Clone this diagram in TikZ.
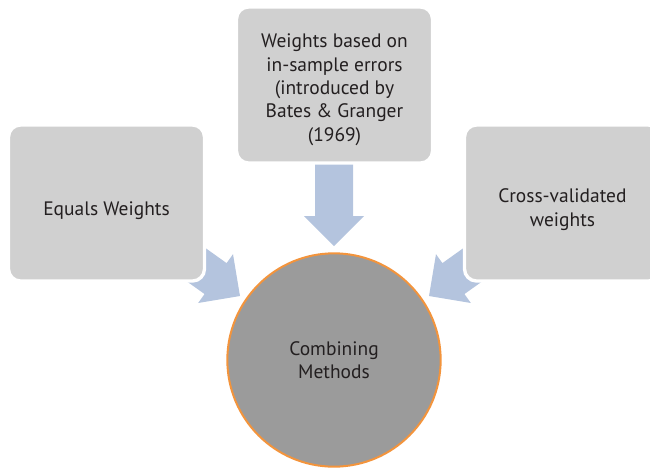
\documentclass[tikz,border=0pt]{standalone}
\usepackage{fontspec}
\setmainfont{PT Sans}
\definecolor{boxgray}{RGB}{208,208,208}
\definecolor{arrowblue}{RGB}{180,196,222}
\definecolor{circgray}{RGB}{155,155,155}
\definecolor{circedge}{RGB}{243,148,60}
\definecolor{txt}{RGB}{35,31,32}
\begin{document}
\begin{tikzpicture}[x=0.75pt,y=-0.75pt,
  boxstyle/.style={rectangle, rounded corners=9pt, fill=boxgray, draw=white, line width=2.5pt,
    minimum width=147pt, minimum height=117pt, inner sep=0pt},
  labelstyle/.style={align=center, text=txt, inner sep=0pt,
    font=\fontsize{14.6}{17.5}\selectfont},
  arrowshape/.style={fill=arrowblue, draw=none},
  circstyle/.style={circle, fill=circgray, draw=circedge, line width=1.5pt, minimum size=160pt,
    inner sep=0pt, align=center, text=txt, font=\fontsize{14.6}{17.5}\selectfont}]
\useasboundingbox (0,0) rectangle (650,469);
\clip (0,0) rectangle (650,469);
% arrows (drawn first, boxes cover their tails)
\fill[arrowshape, shift={(334,246)}, rotate=-90]
  (0,0) -- (-30,30) -- (-30,19) -- (-86,19) -- (-86,-19) -- (-30,-19) -- (-30,-30) -- cycle;
\fill[arrowshape, shift={(240,296)}, rotate=-35.5]
  (0,0) -- (-30,30) -- (-30,19) -- (-86,19) -- (-86,-19) -- (-30,-19) -- (-30,-30) -- cycle;
\fill[arrowshape, shift={(429,296)}, rotate=-144.5]
  (0,0) -- (-30,30) -- (-30,19) -- (-86,19) -- (-86,-19) -- (-30,-19) -- (-30,-30) -- cycle;
% boxes
\node[boxstyle] (leftbox) at (106.5,203) {};
\node[boxstyle] (topbox) at (334.5,85) {};
\node[boxstyle] (rightbox) at (562.5,203) {};
\node[labelstyle] (left) at ([yshift=-6pt]leftbox.center) {Equals Weights};
\node[labelstyle] (top) at ([yshift=-3.5pt]topbox.center) {Weights based on\\in-sample errors\\(introduced by\\Bates \& Granger\\(1969)};
\node[labelstyle] (right) at ([yshift=-5pt]rightbox.center) {Cross-validated\\weights};
% circle
\node[circstyle] (center) at (334,360) {Combining\\Methods};
\end{tikzpicture}
\end{document}
